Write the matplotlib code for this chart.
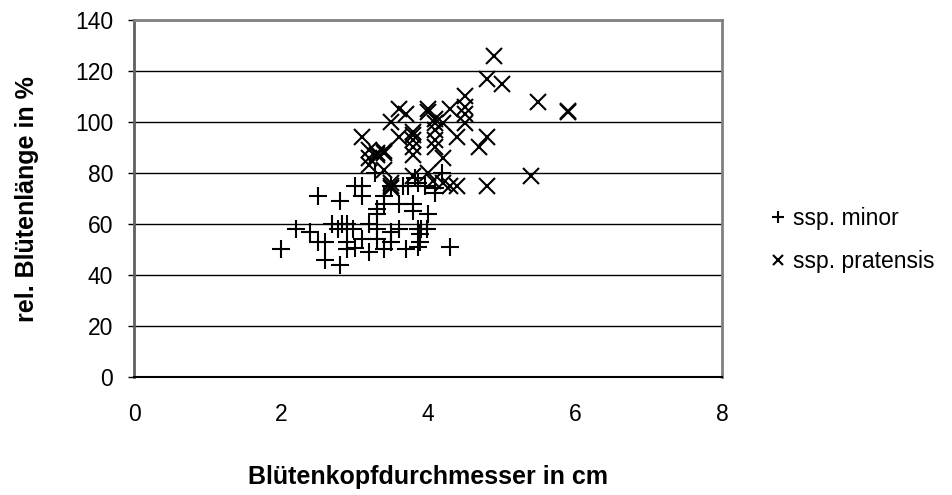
import matplotlib.pyplot as plt
import numpy as np

plt.rcParams['font.family'] = ['Liberation Sans', 'DejaVu Sans']

# ssp. minor
minor_x = [2.0, 2.2, 2.4, 2.5, 2.6, 2.5, 2.6, 2.8, 2.7, 2.77, 2.83, 2.9, 2.98, 2.9, 2.9,
           3.0, 3.1, 3.2, 3.3, 3.4, 3.5, 3.7, 3.0, 3.1, 3.1, 2.8, 3.4, 3.4, 3.6, 3.8,
           3.8, 4.0, 3.3, 3.2, 3.3, 3.5, 3.6, 3.87, 3.91, 3.98, 3.89, 3.89, 3.87, 4.3,
           3.5, 3.66, 3.73, 3.82, 3.87, 3.96, 4.19, 4.1, 4.1, 3.28, 3.3]
minor_y = [50, 58, 57, 53, 53, 71, 46, 44, 60, 58, 60, 60, 58, 53, 50,
           50.5, 54, 49, 54, 50, 53, 50, 75, 75, 71, 69, 71, 68, 68, 68,
           65, 64, 64, 60, 58, 57, 58, 58, 58, 58, 56, 53, 51, 51,
           75, 75, 75, 78, 76, 75, 80, 74, 72, 80, 66]

# ssp. pratensis
prat_x = [4.9, 4.8, 5.0, 4.5, 4.5, 4.5, 4.5, 4.3, 4.4, 4.8, 4.7, 5.5, 5.9, 5.9, 5.4,
          4.3, 4.4, 4.8, 3.6, 3.7, 3.5, 3.6, 3.1, 4.0, 4.0, 4.1, 4.1, 4.2, 4.1, 4.1,
          4.1, 4.2, 3.8, 3.8, 3.8, 3.8, 3.8, 3.2, 3.3, 3.3, 3.2, 3.4, 3.4, 3.2, 3.4,
          3.5, 3.5, 3.5, 4.0, 4.07, 4.2, 3.8]
prat_y = [126, 117, 115, 110, 106, 103, 99.5, 105, 94, 94, 90, 108, 104, 104.5, 79,
          75, 75, 75, 105, 103, 100, 94, 94, 105, 104, 101, 99.5, 99.5, 97, 93,
          90, 86, 96, 95, 93, 90, 87, 89, 88, 87, 86, 88, 88.5, 83, 81,
          75, 74, 76, 80, 77, 76, 79]

fig = plt.figure(figsize=(9.52, 4.95), dpi=100)
ax = fig.add_axes([0.1408, 0.2384, 0.6176, 0.7212])

ax.plot(minor_x, minor_y, linestyle='none', marker='+', markersize=13,
        markeredgewidth=1.5, color='black', label='ssp. minor', zorder=3)
ax.plot(prat_x, prat_y, linestyle='none', marker='x', markersize=11,
        markeredgewidth=1.5, color='black', label='ssp. pratensis', zorder=3)

ax.set_xlim(0, 8)
ax.set_ylim(0, 140)
ax.set_xticks(np.arange(0, 9, 2))
ax.set_yticks(np.arange(0, 141, 20))
ax.yaxis.grid(True, color='black', linewidth=1)
ax.set_axisbelow(True)

for side in ['top', 'right']:
    ax.spines[side].set_color('#808080')
    ax.spines[side].set_linewidth(2)
ax.spines['left'].set_color('#606060')
ax.spines['left'].set_linewidth(2)
ax.spines['bottom'].set_color('black')
ax.spines['bottom'].set_linewidth(1.5)

ax.tick_params(axis='x', length=0, pad=19, labelsize=16.5)
ax.tick_params(axis='y', length=4, width=1, pad=11, labelsize=16.5)

# axis titles
fig.text(428 / 952, 1 - 477 / 495, 'Blütenkopfdurchmesser in cm', fontsize=18,
         fontweight='bold', ha='center', va='center')
fig.text(27 / 952, 1 - 199 / 495, 'rel. Blütenlänge in %', fontsize=18,
         fontweight='bold', ha='center', va='center', rotation=90)

fig.legend(loc='center left', bbox_to_anchor=(0.81, 0.515), frameon=False,
           fontsize=16.5, handlelength=0.6, handletextpad=0.35, markerscale=0.7,
           labelspacing=0.85, borderpad=0, borderaxespad=0)

fig.savefig('out.png', dpi=100)
